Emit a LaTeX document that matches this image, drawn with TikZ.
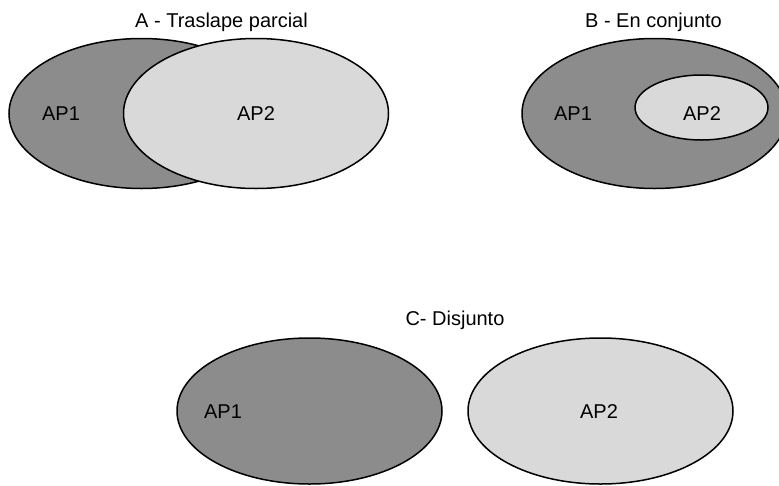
\documentclass[tikz,border=0pt]{standalone}
\usepackage{fontspec}
\setmainfont{Liberation Sans}
\usetikzlibrary{shapes.geometric}
\definecolor{darkfill}{HTML}{8C8C8C}
\definecolor{lightfill}{HTML}{D9D9D9}

\begin{document}
\begin{tikzpicture}
[x=1pt, y=-1pt,
setone/.style={ellipse, draw=black, fill=darkfill, line width=1.5pt, inner sep=0pt, minimum width=265pt, minimum height=150pt},
settwo/.style={setone, fill=lightfill},
caption/.style={anchor=base, inner sep=0pt, font=\fontsize{20}{24}\selectfont},
]
\useasboundingbox (0,0) rectangle (779,485);

% A - partial overlap
\node[caption]	(titleA) at (221.5,27) {A - Traslape parcial};
\node[setone]	(A1) at (141.5,113.5) {};
\node[settwo]	(A2) at (256,113.5) {};
\node[caption]	(labA1) at (61,120) {AP1};
\node[caption]	(labA2) at (256,120) {AP2};

% B - nested
\node[caption]	(titleB) at (653.5,27) {B - En conjunto};
\node[setone]	(B1) at (654.5,113.5) {};
\node[settwo, minimum width=133pt, minimum height=65pt]	(B2) at (701.5,107.5) {};
\node[caption]	(labB1) at (573,120) {AP1};
\node[caption]	(labB2) at (702,120) {AP2};

% C - disjoint
\node[caption]	(titleC) at (455,325) {C- Disjunto};
\node[setone, minimum height=146pt]	(C1) at (309.5,411) {};
\node[settwo, minimum height=146pt]	(C2) at (600.5,411) {};
\node[caption]	(labC1) at (223,418) {AP1};
\node[caption]	(labC2) at (599,418) {AP2};
\end{tikzpicture}
\end{document}
